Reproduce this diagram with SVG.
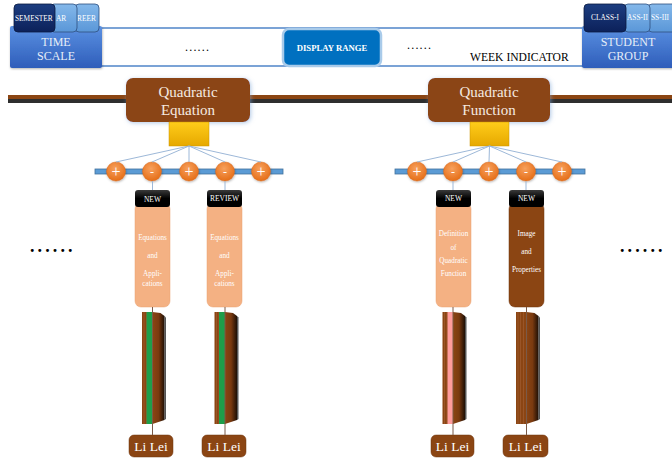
<svg xmlns="http://www.w3.org/2000/svg" width="672" height="463" viewBox="0 0 672 463">
<style>
text{font-family:'Liberation Serif','Times New Roman','DejaVu Serif',serif;}
.hdr{font-size:12px;fill:#E6EEF8;text-anchor:middle;}
.tabt{font-size:7.4px;fill:#FFFFFF;}
.topic{font-size:15px;fill:#F6EBE2;text-anchor:middle;}
.sign{fill:#FFFFFF;text-anchor:middle;}
.tagt{font-size:7.5px;fill:#FFFFFF;text-anchor:middle;}
.cardt{font-size:7.2px;fill:#FFFFFF;text-anchor:middle;}
.name{font-size:13.5px;fill:#FFFFFF;text-anchor:middle;}
.dots{fill:#000000;}
.tab-l{fill:url(#tabLight);stroke:#2F4F7F;stroke-width:0.8;}
.tab-d{fill:url(#tabDark);stroke:#0A1A40;stroke-width:0.8;}
.fan{stroke:#9DB8D8;stroke-width:1;fill:none;}
.conn{stroke:#7A5A48;stroke-width:1;fill:none;}
.topicbox{fill:#8B4513;filter:url(#glow);}
.card{fill:#F4B183;stroke:#E9A070;stroke-width:0.5;}
.tag{fill:url(#tagGrad);}
.namebox{fill:#8B4513;stroke:#6E350E;stroke-width:0.5;}
.circ{fill:url(#orange);stroke:#D9661A;stroke-width:0.5;filter:url(#sh);}
</style>
<defs>
<linearGradient id="blueBox" x1="0" y1="0" x2="0" y2="1">
<stop offset="0" stop-color="#5B91E2"/><stop offset="1" stop-color="#2E5DBA"/>
</linearGradient>
<linearGradient id="tabLight" x1="0" y1="0" x2="0" y2="1">
<stop offset="0" stop-color="#84B8EA"/><stop offset="1" stop-color="#5A97D8"/>
</linearGradient>
<linearGradient id="tabDark" x1="0" y1="0" x2="0" y2="1">
<stop offset="0" stop-color="#1C3D80"/><stop offset="1" stop-color="#0C215A"/>
</linearGradient>
<linearGradient id="gold" x1="0" y1="0" x2="0" y2="1">
<stop offset="0" stop-color="#FFCC1A"/><stop offset="1" stop-color="#E6A800"/>
</linearGradient>
<radialGradient id="orange" cx="0.45" cy="0.35" r="0.7">
<stop offset="0" stop-color="#F7A15E"/><stop offset="1" stop-color="#E46A12"/>
</radialGradient>
<linearGradient id="tagGrad" x1="0" y1="0" x2="0" y2="1">
<stop offset="0" stop-color="#3A3A3A"/><stop offset="0.5" stop-color="#000000"/><stop offset="1" stop-color="#000000"/>
</linearGradient>
<linearGradient id="cover" x1="0" y1="0" x2="1" y2="0">
<stop offset="0" stop-color="#8B4513"/><stop offset="0.5" stop-color="#7A3A10"/><stop offset="1" stop-color="#1E0F05"/>
</linearGradient>
<filter id="glow" x="-20%" y="-30%" width="140%" height="160%">
<feDropShadow dx="1" dy="1" stdDeviation="2" flood-color="#7FA6D6" flood-opacity="0.6"/>
</filter>
<filter id="sh" x="-30%" y="-30%" width="160%" height="160%">
<feDropShadow dx="0.5" dy="1" stdDeviation="0.8" flood-color="#000" flood-opacity="0.3"/>
</filter>
<g id="book">
<rect x="-10.5" y="312" width="10.5" height="112" fill="#8B4513"/>
<line x1="-8.5" y1="312" x2="-8.5" y2="424" stroke="#A8663C" stroke-width="0.5"/>
<line x1="-6" y1="312" x2="-6" y2="424" stroke="#A8663C" stroke-width="0.5"/>
<line x1="-3" y1="312" x2="-3" y2="424" stroke="#A8663C" stroke-width="0.5"/>
<polygon points="0,312 8,313 12,316 12,420 0,424" fill="url(#cover)"/>
<polygon points="12,316 13.5,317.5 13.5,419 12,420" fill="#2A2A2A" opacity="0.8"/>
</g>
</defs>

<rect width="672" height="463" fill="#FFFFFF"/>

<!-- header -->
<g id="week-bar">
<rect x="100" y="28" width="486" height="38" fill="#FFFFFF" stroke="#7BA3D6" stroke-width="2"/>
<text class="dots" x="185" y="51" font-size="12" letter-spacing="1.2">......</text>
<text class="dots" x="407" y="49" font-size="12" letter-spacing="1.2">......</text>
<text x="470" y="61" font-size="11.6" fill="#000">WEEK INDICATOR</text>
</g>
<g id="display-range">
<rect x="283" y="29" width="98" height="37" rx="6" fill="#0070C0" stroke="#A9CBEA" stroke-width="2.5"/>
<text x="332" y="51" font-size="8.7" font-weight="bold" fill="#FFFFFF" text-anchor="middle">DISPLAY RANGE</text>
</g>
<g id="time-scale">
<rect x="10" y="26" width="92" height="42" rx="2" fill="url(#blueBox)" filter="url(#sh)"/>
<rect class="tab-l" x="75" y="4" width="24" height="28" rx="4"/>
<text class="tabt" x="77" y="21">REER</text>
<rect class="tab-l" x="50" y="4" width="27" height="28" rx="4"/>
<text class="tabt" x="56" y="21">AR</text>
<rect class="tab-d" x="14" y="4" width="41" height="28" rx="4"/>
<text class="tabt" x="15" y="21">SEMESTER</text>
<text class="hdr" x="56" y="46">TIME</text>
<text class="hdr" x="56" y="60">SCALE</text>
</g>
<g id="student-group">
<rect x="582" y="26" width="92" height="42" rx="2" fill="url(#blueBox)" filter="url(#sh)"/>
<rect class="tab-l" x="648" y="4" width="28" height="28" rx="4"/>
<text class="tabt" x="651" y="20">SS-III</text>
<rect class="tab-l" x="624" y="4" width="26" height="28" rx="4"/>
<text class="tabt" x="627" y="20">ASS-II</text>
<rect class="tab-d" x="584" y="4" width="42" height="28" rx="4"/>
<text class="tabt" x="605" y="20" text-anchor="middle">CLASS-I</text>
<text class="hdr" x="628" y="46">STUDENT</text>
<text class="hdr" x="628" y="60">GROUP</text>
</g>

<!-- timeline -->
<g id="timeline">
<rect x="8" y="95" width="664" height="4" fill="#8B4513"/>
<rect x="8" y="99" width="664" height="4" fill="#2E2E2E"/>
</g>
<text class="dots" x="30" y="252" font-size="18" font-weight="bold" letter-spacing="3.1">......</text>
<text class="dots" x="620" y="252" font-size="18" font-weight="bold" letter-spacing="3.1">......</text>

<!-- topic 1 -->
<g id="topic-equation">
<rect class="topicbox" x="126" y="78" width="124" height="44" rx="7"/>
<text class="topic" x="188" y="97">Quadratic</text>
<text class="topic" x="188" y="115">Equation</text>
</g>
<g id="hub-equation">
<rect x="169" y="122" width="40" height="24" fill="url(#gold)" stroke="#C99400" stroke-width="0.5"/>
</g>
<g id="bar-equation">
<rect x="95" y="169" width="188" height="5" fill="#5B9BD5" stroke="#41719C" stroke-width="0.8"/>
<circle class="circ" cx="116" cy="171.5" r="9.5"/><text class="sign" x="116" y="177" font-size="16">+</text>
<circle class="circ" cx="152" cy="171.5" r="9.5"/><text class="sign" x="152" y="176" font-size="12">-</text>
<circle class="circ" cx="189" cy="171.5" r="9.5"/><text class="sign" x="189" y="177" font-size="16">+</text>
<circle class="circ" cx="225" cy="171.5" r="9.5"/><text class="sign" x="225" y="176" font-size="12">-</text>
<circle class="circ" cx="261" cy="171.5" r="9.5"/><text class="sign" x="261" y="177" font-size="16">+</text>
</g>

<!-- topic 2 -->
<g id="topic-function">
<rect class="topicbox" x="428" y="78" width="122" height="44" rx="7"/>
<text class="topic" x="489" y="97">Quadratic</text>
<text class="topic" x="489" y="115">Function</text>
</g>
<g id="hub-function">
<rect x="470" y="122" width="39" height="24" fill="url(#gold)" stroke="#C99400" stroke-width="0.5"/>
</g>
<g id="bar-function">
<rect x="395" y="169" width="190" height="5" fill="#5B9BD5" stroke="#41719C" stroke-width="0.8"/>
<circle class="circ" cx="417" cy="171.5" r="9.5"/><text class="sign" x="417" y="177" font-size="16">+</text>
<circle class="circ" cx="453" cy="171.5" r="9.5"/><text class="sign" x="453" y="176" font-size="12">-</text>
<circle class="circ" cx="489" cy="171.5" r="9.5"/><text class="sign" x="489" y="177" font-size="16">+</text>
<circle class="circ" cx="526" cy="171.5" r="9.5"/><text class="sign" x="526" y="176" font-size="12">-</text>
<circle class="circ" cx="562" cy="171.5" r="9.5"/><text class="sign" x="562" y="177" font-size="16">+</text>
</g>

<!-- lessons -->
<g id="lesson-1">
<rect class="card" x="135" y="203" width="35" height="104" rx="6"/>
<rect class="tag" x="135" y="190" width="35" height="17" rx="3"/>
<text class="tagt" x="152.5" y="201.5">NEW</text>
<text class="cardt" x="152.5" y="240">Equations</text>
<text class="cardt" x="152.5" y="258">and</text>
<text class="cardt" x="152.5" y="276">Appli-</text>
<text class="cardt" x="152.5" y="285.5">cations</text>
</g>
<g id="lesson-2">
<rect class="card" x="207" y="203" width="35" height="104" rx="6"/>
<rect class="tag" x="207" y="190" width="35" height="17" rx="3"/>
<text class="tagt" x="224.5" y="201">REVIEW</text>
<text class="cardt" x="224.5" y="240">Equations</text>
<text class="cardt" x="224.5" y="258">and</text>
<text class="cardt" x="224.5" y="276">Appli-</text>
<text class="cardt" x="224.5" y="285.5">cations</text>
</g>
<g id="lesson-3">
<rect class="card" x="436" y="203" width="35" height="104" rx="6"/>
<rect class="tag" x="436" y="190" width="35" height="17" rx="3"/>
<text class="tagt" x="453.5" y="201">NEW</text>
<text class="cardt" x="453.5" y="236" font-size="7.6">Definition</text>
<text class="cardt" x="453.5" y="249.5" font-size="7.6">of</text>
<text class="cardt" x="453.5" y="263" font-size="7.6">Quadratic</text>
<text class="cardt" x="453.5" y="276" font-size="7.6">Function</text>
</g>
<g id="lesson-4">
<rect x="509" y="203" width="35" height="104" rx="6" fill="#8B4513" stroke="#6E350E" stroke-width="0.5"/>
<rect class="tag" x="509" y="190" width="35" height="17" rx="3"/>
<text class="tagt" x="526.5" y="201">NEW</text>
<text class="cardt" x="526.5" y="236" font-size="7.6">Image</text>
<text class="cardt" x="526.5" y="254" font-size="7.6">and</text>
<text class="cardt" x="526.5" y="272" font-size="7.6">Properties</text>
</g>

<!-- books -->
<g id="book-1">
<use href="#book" x="152.5"/>
<rect x="146.5" y="312" width="6" height="112" fill="#1E9E4A"/>
</g>
<g id="book-2">
<use href="#book" x="225"/>
<rect x="219" y="312" width="6" height="112" fill="#1E9E4A"/>
</g>
<g id="book-3">
<use href="#book" x="453"/>
<rect x="447.5" y="312" width="5.5" height="112" fill="#FF9C9C"/>
</g>
<g id="book-4">
<use href="#book" x="526.5"/>
</g>

<!-- students -->
<g id="student-1">
<rect class="namebox" x="129" y="435" width="44" height="22" rx="5"/>
<text class="name" x="151" y="451">Li Lei</text>
</g>
<g id="student-2">
<rect class="namebox" x="202" y="435" width="44" height="22" rx="5"/>
<text class="name" x="224" y="451">Li Lei</text>
</g>
<g id="student-3">
<rect class="namebox" x="431" y="435" width="43" height="22" rx="5"/>
<text class="name" x="452.5" y="451">Li Lei</text>
</g>
<g id="student-4">
<rect class="namebox" x="503" y="435" width="45" height="22" rx="5"/>
<text class="name" x="525.5" y="451">Li Lei</text>
</g>

<!-- connectors -->
<g id="connectors">
<line class="fan" x1="189" y1="146" x2="116" y2="162"/>
<line class="fan" x1="189" y1="146" x2="152" y2="162"/>
<line class="fan" x1="189" y1="146" x2="189" y2="162"/>
<line class="fan" x1="189" y1="146" x2="225" y2="162"/>
<line class="fan" x1="189" y1="146" x2="261" y2="162"/>
<line class="fan" x1="489.5" y1="146" x2="417" y2="162"/>
<line class="fan" x1="489.5" y1="146" x2="453" y2="162"/>
<line class="fan" x1="489.5" y1="146" x2="489" y2="162"/>
<line class="fan" x1="489.5" y1="146" x2="526" y2="162"/>
<line class="fan" x1="489.5" y1="146" x2="562" y2="162"/>
<line class="fan" x1="152.5" y1="181" x2="152.5" y2="190"/>
<line class="fan" x1="225" y1="181" x2="225" y2="190"/>
<line class="fan" x1="453" y1="181" x2="453" y2="190"/>
<line class="fan" x1="526" y1="181" x2="526" y2="190"/>
<line class="conn" x1="152.5" y1="307" x2="152.5" y2="435"/>
<line class="conn" x1="225" y1="307" x2="225" y2="435"/>
<line class="conn" x1="453" y1="307" x2="453" y2="435"/>
<line class="conn" x1="526.5" y1="307" x2="526.5" y2="435"/>
</g>
</svg>
